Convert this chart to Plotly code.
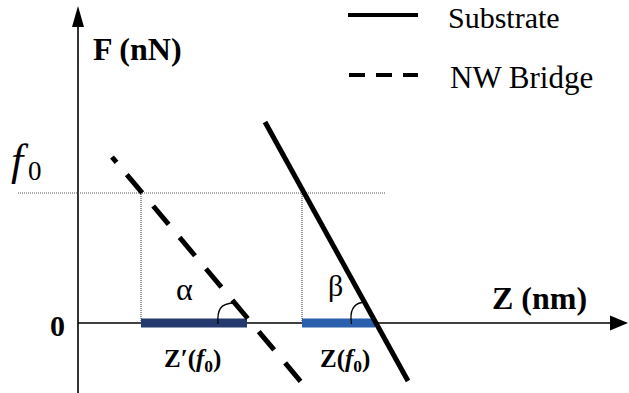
import plotly.graph_objects as go

# ---- schematic data (arbitrary units; origin at axis crossing) ----
z_axis_end = 550
f_axis_top = 317
f_axis_bottom = -72
f0 = 130
bridge_z = [34, 224]
bridge_f = [166, -60]
substrate_z = [187, 330]
substrate_f = [201, -58]
zprime_f0 = [63, 169]
z_f0 = [224, 297]
f0_line_z = [-60, 307]
legend_labels = ["Substrate", "NW Bridge"]

FONT = "Liberation Serif"
fig = go.Figure()

def line(x, y, color="black", width=2, dash=None):
    fig.add_trace(go.Scatter(x=x, y=y, mode="lines", hoverinfo="skip", showlegend=False,
                             line=dict(color=color, width=width, dash=dash)))

# axes
line([0, 0], [f_axis_bottom, f_axis_top - 18], width=1.6)
line([0, z_axis_end - 16], [0, 0], width=1.6)

# dotted guides
dot = "1px,1px"
line(f0_line_z, [f0, f0], color="#555", width=1.2, dash=dot)
line([zprime_f0[0]] * 2, [0, f0], color="#555", width=1.2, dash=dot)
line([z_f0[0]] * 2, [0, f0], color="#555", width=1.2, dash=dot)

# bars
line(zprime_f0, [0, 0], color="#243a6e", width=9)
line(z_f0, [0, 0], color="#2a5fae", width=9)

# curves
line(substrate_z, substrate_f, width=5)
bridge_dash = "7px,16px" + ",24px,17px" * 12
line(bridge_z, bridge_f, width=5, dash=bridge_dash)

# legend samples
line([270, 340], [308, 308], width=4)
line([271, 340], [248, 248], width=4, dash="16px,11px")

shapes = [
    # arrowheads
    dict(type="path", path=f"M 0,{f_axis_top} L -6,{f_axis_top-21} L 6,{f_axis_top-21} Z",
         fillcolor="black", line=dict(width=0)),
    dict(type="path", path=f"M {z_axis_end},0 L {z_axis_end-18},7.5 L {z_axis_end-18},-7.5 Z",
         fillcolor="black", line=dict(width=0)),
    # angle arcs
    dict(type="path", path="M 140,-1 C 139,13 142,20 157,20", line=dict(color="black", width=1.3)),
    dict(type="path", path="M 273.5,-1 C 271.5,12 275,19 284,20.5", line=dict(color="black", width=1.3)),
]

def txt(x, y, s, size, bold=False, italic=False, xanchor="center"):
    if bold:
        s = f"<b>{s}</b>"
    if italic:
        s = f"<i>{s}</i>"
    fig.add_annotation(x=x, y=y, text=s, showarrow=False, xanchor=xanchor, yanchor="middle",
                       font=dict(family=FONT, size=size, color="black"))

txt(59, 274, "F (nN)", 32, bold=True)
txt(-58, 163, "f", 44, italic=True)
txt(-43, 152, "0", 27)
txt(-21, -2, "0", 30, bold=True)
txt(106, 34, "α", 32)
txt(257, 38, "β", 30)
txt(461, 25, "Z (nm)", 32, bold=True)
txt(114, -37, "Z′(<i>f</i><sub>0</sub>)", 25, bold=True)
txt(267, -37, "Z(<i>f</i><sub>0</sub>)", 25, bold=True)
txt(368, 306, legend_labels[0], 30, xanchor="left")
txt(370, 246, legend_labels[1], 31, xanchor="left")

fig.update_layout(
    width=629, height=393, margin=dict(l=0, r=0, t=0, b=0),
    paper_bgcolor="white", plot_bgcolor="white", shapes=shapes,
    xaxis=dict(range=[-78, 551], visible=False, fixedrange=True),
    yaxis=dict(range=[-70, 323], visible=False, fixedrange=True),
)
fig.write_html("out.html", config={"displayModeBar": False},
               post_script="document.body.style.margin='0';document.body.style.overflow='hidden';")
